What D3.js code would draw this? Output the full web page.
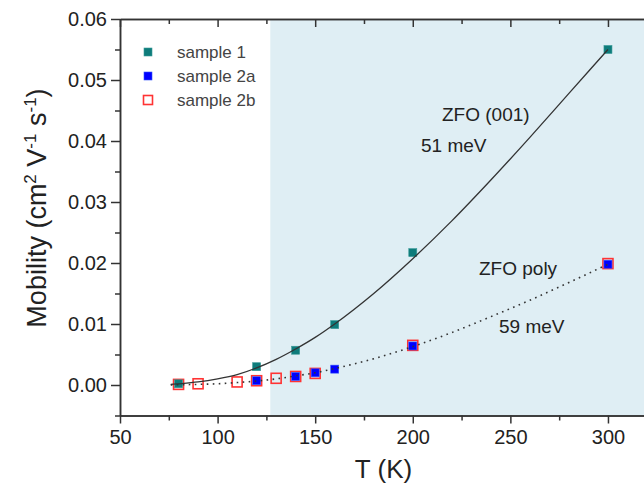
<!DOCTYPE html>
<html>
<head>
<meta charset="utf-8">
<script src="https://cdn.jsdelivr.net/npm/d3@7"></script>
<style>
  body { margin: 0; background: #fff; }
  svg { display: block; font-family: "Liberation Sans", Arial, sans-serif; }
</style>
</head>
<body>
<div id="chart"></div>
<script>
// measured points
const tSample1 = [80, 120, 140, 160, 200, 300];
const mSample1 = [0.0002, 0.0030, 0.0057, 0.0099, 0.0217, 0.0550];

const tSample2a = [120, 140, 150, 160, 200, 300];
const mSample2a = [0.0007, 0.0014, 0.0020, 0.0026, 0.0064, 0.0198];

const tSample2b = [80, 90, 110, 120, 130, 140, 150, 200, 300];
const mSample2b = [0.0001, 0.0002, 0.0005, 0.0007, 0.0011, 0.0014, 0.0019, 0.0065, 0.0199];

// fit curves
const tFit = [76, 80, 90, 100, 110, 120, 130, 140, 150, 160, 180, 200, 220, 240, 260, 280, 300];
const mFit001 = [0.0001, 0.0002, 0.0005, 0.0010, 0.0017, 0.0028, 0.0042, 0.0059, 0.0078, 0.0100,
                 0.0150, 0.0207, 0.0269, 0.0336, 0.0406, 0.0478, 0.0550];
const mFitPoly = [0.00002, 0.00004, 0.0001, 0.0002, 0.0004, 0.00065, 0.0010, 0.0015, 0.0020, 0.0027,
                  0.0043, 0.0063, 0.0086, 0.0112, 0.0139, 0.0168, 0.0198];

const shadeFrom = 127;

const xTicks = [50, 100, 150, 200, 250, 300];
const yTicks = [0.00, 0.01, 0.02, 0.03, 0.04, 0.05, 0.06];

const legendItems = ["sample 1", "sample 2a", "sample 2b"];

const width = 644, height = 487;
const pLeft = 120, pTop = 19, pBottom = 415.5, pRight = 647;

const svg = d3.select("#chart").append("svg")
    .attr("width", width).attr("height", height);

const x = d3.scaleLinear().domain([50, 320]).range([pLeft, pRight]);
const y = d3.scaleLinear().domain([-0.005, 0.06]).range([pBottom, pTop]);

// shaded region
svg.append("rect")
    .attr("x", x(shadeFrom)).attr("y", pTop)
    .attr("width", pRight - x(shadeFrom)).attr("height", pBottom - pTop)
    .attr("fill", "#dfeef4");

const zip = (ts, ms) => ts.map((t, i) => ({t, m: ms[i]}));

// markers
const sq = (sel, data, size, fill, stroke, sw) => sel.append("g")
    .selectAll("rect").data(data).join("rect")
    .attr("x", d => x(d.t) - size / 2).attr("y", d => y(d.m) - size / 2)
    .attr("width", size).attr("height", size)
    .attr("fill", fill).attr("stroke", stroke).attr("stroke-width", sw);

sq(svg, zip(tSample2b, mSample2b), 10, "none", "#ff3333", 1.6);
sq(svg, zip(tSample2a, mSample2a), 8, "#0000ff", "#3355ff", 0.6);
sq(svg, zip(tSample1, mSample1), 8, "#0e7c7b", "#3a9a98", 0.6);

// fit lines
const line = d3.line().x(d => x(d.t)).y(d => y(d.m)).curve(d3.curveMonotoneX);
svg.append("path").datum(zip(tFit, mFit001))
    .attr("d", line).attr("fill", "none")
    .attr("stroke", "#333").attr("stroke-width", 1.3);
svg.append("path").datum(zip(tFit, mFitPoly))
    .attr("d", line).attr("fill", "none")
    .attr("stroke", "#333").attr("stroke-width", 1.6)
    .attr("stroke-dasharray", "1.6,4.4");

// axes
const axisCol = "#333";
const xMinor = d3.range(75, 320, 50);
const yMinor = d3.range(-0.005, 0.06, 0.01);

const xAxis = svg.append("g").attr("transform", `translate(0,${pBottom})`)
    .call(d3.axisBottom(x).tickValues(xTicks).tickSize(8).tickSizeOuter(0).tickPadding(6));
svg.append("g").attr("transform", `translate(0,${pBottom})`)
    .call(d3.axisBottom(x).tickValues(xMinor).tickSize(5).tickSizeOuter(0).tickFormat(""));
svg.append("g").attr("transform", `translate(0,${pTop})`)
    .call(d3.axisBottom(x).tickValues(xTicks).tickSize(8).tickSizeOuter(0).tickFormat(""));
svg.append("g").attr("transform", `translate(0,${pTop})`)
    .call(d3.axisBottom(x).tickValues(xMinor).tickSize(5).tickSizeOuter(0).tickFormat(""));

const yAxis = svg.append("g").attr("transform", `translate(${pLeft},0)`)
    .call(d3.axisLeft(y).tickValues(yTicks).tickSize(9).tickSizeOuter(0).tickPadding(4)
        .tickFormat(d3.format(".2f")));
svg.append("g").attr("transform", `translate(${pLeft},0)`)
    .call(d3.axisLeft(y).tickValues(yMinor).tickSize(5).tickSizeOuter(0).tickFormat(""));

svg.selectAll(".domain, .tick line").attr("stroke", axisCol).attr("stroke-width", 1.5);
xAxis.selectAll("text").attr("font-size", 20).attr("fill", "#222");
yAxis.selectAll("text").attr("font-size", 20).attr("fill", "#222");
svg.selectAll("g").attr("font-family", null);

// axis titles
svg.append("text")
    .attr("x", (pLeft + pRight) / 2).attr("y", 478)
    .attr("text-anchor", "middle").attr("font-size", 26).attr("fill", "#222")
    .text("T (K)");

const yt = svg.append("text")
    .attr("transform", "translate(46,208) rotate(-90)")
    .attr("text-anchor", "middle").attr("font-size", 27).attr("fill", "#222");
yt.append("tspan").text("Mobility (cm");
yt.append("tspan").attr("dy", -10).attr("font-size", 17).text("2");
yt.append("tspan").attr("dy", 10).text(" V");
yt.append("tspan").attr("dy", -10).attr("font-size", 17).text("-1");
yt.append("tspan").attr("dy", 10).text(" s");
yt.append("tspan").attr("dy", -10).attr("font-size", 17).text("-1");
yt.append("tspan").attr("dy", 10).text(")");

// legend
const lg = svg.append("g");
const legendStyle = [
    {fill: "#0e7c7b", stroke: "#3a9a98", size: 8, sw: 0.6},
    {fill: "#0000ff", stroke: "#3355ff", size: 8, sw: 0.6},
    {fill: "#fff", stroke: "#ff3333", size: 9, sw: 1.6}
];
legendItems.forEach((name, i) => {
    const cy = 52 + i * 24;
    const s = legendStyle[i];
    lg.append("rect")
        .attr("x", 148 - s.size / 2).attr("y", cy - s.size / 2)
        .attr("width", s.size).attr("height", s.size)
        .attr("fill", s.fill).attr("stroke", s.stroke).attr("stroke-width", s.sw);
    lg.append("text").attr("x", 177).attr("y", cy + 6)
        .attr("font-size", 17).attr("fill", "#444").text(name);
});

// annotations
const notes = [
    {text: "ZFO (001)", x: 442, y: 121},
    {text: "51 meV", x: 421, y: 152},
    {text: "ZFO poly", x: 479, y: 275},
    {text: "59 meV", x: 499, y: 333}
];
svg.append("g").selectAll("text").data(notes).join("text")
    .attr("x", d => d.x).attr("y", d => d.y)
    .attr("font-size", 19).attr("fill", "#222")
    .text(d => d.text);
</script>
</body>
</html>
